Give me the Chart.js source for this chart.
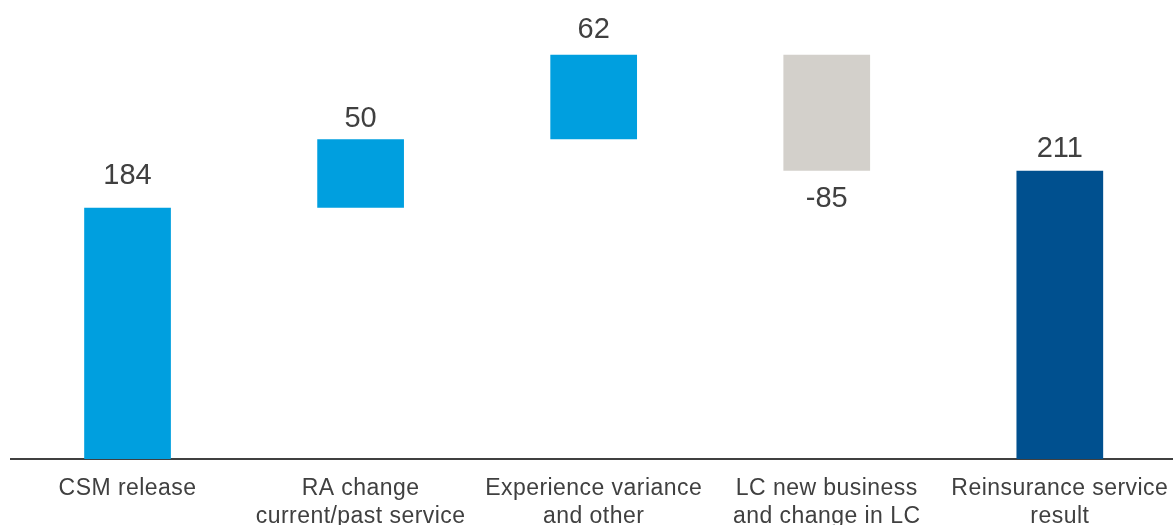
<!DOCTYPE html>
<html>
<head>
<meta charset="utf-8">
<script src="https://cdn.jsdelivr.net/npm/chart.js@4.4.1/dist/chart.umd.min.js"></script>
<style>
  html, body { margin: 0; padding: 0; background: #ffffff; overflow: hidden; }
  #wrap { position: relative; width: 1180px; height: 540px; }
</style>
</head>
<body>
<div id="wrap"><canvas id="waterfall"></canvas></div>
<script>
// Kategori (label sumbu X, dua baris)
const categories = [
    ['CSM release'],
    ['RA change', 'current/past service'],
    ['Experience variance', 'and other'],
    ['LC new business', 'and change in LC'],
    ['Reinsurance service', 'result']
];
// Nilai tiap langkah waterfall
const stepValues = [184, 50, 62, -85, 211];
// 'total' = batang dari nol, 'delta' = batang mengambang
const stepTypes = ['total', 'delta', 'delta', 'delta', 'total'];
const yMax = 336;

const COLOR_LIGHT = '#009fdf';
const COLOR_DARK = '#00508f';
const COLOR_NEG = '#d3d0cb';
const TEXT = '#404040';
// jarak (px) antara angka dan ujung batang
const labelGap = [24, 12, 17, 15, 14];

// Hitung rentang [awal, akhir] tiap batang dari nilai kumulatif
function buildRanges(values, types) {
    let running = 0;
    return values.map((v, i) => {
        if (types[i] === 'total') {
            running = v;
            return [0, v];
        }
        const start = running;
        running += v;
        return [start, running];
    });
}

const ranges = buildRanges(stepValues, stepTypes);
const barColors = stepValues.map((v, i) => {
    if (stepTypes[i] === 'total' && i === stepValues.length - 1) return COLOR_DARK;
    return v < 0 ? COLOR_NEG : COLOR_LIGHT;
});

// Sedikit spasi huruf untuk label sumbu
const tickSpacing = {
    id: 'tickSpacing',
    beforeDraw(chart) { chart.ctx.letterSpacing = '0.45px'; },
    afterDraw(chart) { chart.ctx.letterSpacing = '0px'; }
};

// Plugin sederhana untuk menulis nilai di atas / bawah batang
const valueLabels = {
    id: 'valueLabels',
    afterDatasetsDraw(chart) {
        const ctx = chart.ctx;
        const meta = chart.getDatasetMeta(0);
        ctx.save();
        ctx.letterSpacing = '0px';
        ctx.font = "29px 'Liberation Sans', Arial, sans-serif";
        ctx.fillStyle = TEXT;
        ctx.textAlign = 'center';
        ctx.textBaseline = 'alphabetic';
        meta.data.forEach((bar, i) => {
            const top = Math.min(bar.y, bar.base);
            const bottom = Math.max(bar.y, bar.base);
            const val = stepValues[i];
            if (val < 0) {
                ctx.fillText(String(val), bar.x, bottom + labelGap[i] + 21);
            } else {
                ctx.fillText(String(val), bar.x, top - labelGap[i]);
            }
        });
        ctx.restore();
    }
};

new Chart(document.getElementById('waterfall'), {
    type: 'bar',
    data: {
        labels: categories,
        datasets: [{
            data: ranges,
            backgroundColor: barColors,
            borderWidth: 0,
            categoryPercentage: 1,
            barPercentage: 0.372
        }]
    },
    options: {
        responsive: true,
        maintainAspectRatio: false,
        animation: false,
        layout: { padding: { left: 11, right: 0, top: 0, bottom: 0 } },
        plugins: {
            legend: { display: false },
            tooltip: { enabled: false }
        },
        scales: {
            x: {
                grid: { display: false, drawTicks: false },
                border: { display: true, color: TEXT, width: 2 },
                ticks: {
                    color: TEXT,
                    padding: 16,
                    maxRotation: 0,
                    autoSkip: false,
                    font: { family: "'Liberation Sans', Arial, sans-serif", size: 23, lineHeight: 1.2 }
                },
                afterFit(scale) { scale.height = 81; }
            },
            y: {
                display: false,
                min: 0,
                max: yMax
            }
        }
    },
    plugins: [tickSpacing, valueLabels]
});
</script>
</body>
</html>
